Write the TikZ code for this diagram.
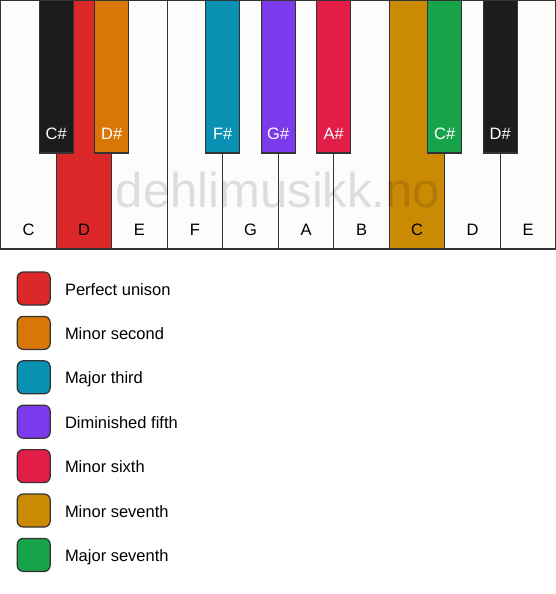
\documentclass[tikz,border=0pt]{standalone}
\usepackage{fontspec}
\setmainfont{Liberation Sans}
\definecolor{keywhite}{HTML}{FDFCFA}
\definecolor{keyblack}{HTML}{1C1C1C}
\definecolor{edge}{HTML}{333333}
\definecolor{cunison}{HTML}{DC2828}
\definecolor{csecond}{HTML}{D97706}
\definecolor{cthird}{HTML}{0891B2}
\definecolor{cfifth}{HTML}{7C3AED}
\definecolor{csixth}{HTML}{E11D48}
\definecolor{cseventh}{HTML}{CA8A04}
\definecolor{cmajseventh}{HTML}{16A34A}
\begin{document}
\begin{tikzpicture}[x=1pt,y=-1pt,
  whitekey/.style={draw=edge,line width=1.3pt,fill=keywhite,minimum width=55.5pt,minimum height=249pt,anchor=north west,inner sep=0pt,outer sep=0pt},
  blackkey/.style={draw=edge,line width=1.3pt,fill=keyblack,minimum width=34pt,minimum height=153pt,anchor=north,inner sep=0pt,outer sep=0pt},
  wlabel/.style={font=\fontsize{16.5}{19}\selectfont,text=black,anchor=base,inner sep=0pt},
  blabel/.style={font=\fontsize{16.5}{19}\selectfont,text=white,anchor=base,inner sep=0pt},
  swatch/.style={draw=edge,line width=1.2pt,rounded corners=6pt,minimum width=33pt,minimum height=33pt,inner sep=0pt},
  legtext/.style={font=\fontsize{16.5}{19}\selectfont,anchor=base west,inner sep=0pt}
]
\useasboundingbox (0,0) rectangle (556,594);
% white keys
\foreach \i/\n/\c in {0/C/keywhite,1/D/cunison,2/E/keywhite,3/F/keywhite,4/G/keywhite,5/A/keywhite,6/B/keywhite,7/C/cseventh,8/D/keywhite,9/E/keywhite}{
  \node[whitekey,fill=\c] (w\i) at (0.75+55.5*\i,0) {};
  \node[wlabel] (wl\i) at ([yshift=13.5pt]w\i.south) {\n};
}
% watermark
\node[font=\fontsize{49}{55}\selectfont,text=black,text opacity=0.12,anchor=base] (wm) at (278,207) {dehlimusikk.no};
% black keys
\foreach \i/\x/\n/\c in {0/56.25/C\#/keyblack,1/111.75/D\#/csecond,2/222.75/F\#/cthird,3/278.25/G\#/cfifth,4/333.75/A\#/csixth,5/444.75/C\#/cmajseventh,6/500.25/D\#/keyblack}{
  \node[blackkey,fill=\c] (b\i) at (\x,0) {};
  \node[blabel] (bl\i) at ([yshift=14pt]b\i.south) {\n};
}
% legend
\foreach \i/\c/\t in {0/cunison/Perfect unison,1/csecond/Minor second,2/cthird/Major third,3/cfifth/Diminished fifth,4/csixth/Minor sixth,5/cseventh/Minor seventh,6/cmajseventh/Major seventh}{
  \node[swatch,fill=\c] (s\i) at (33.7,288.5+44.4*\i) {};
  \node[legtext] (t\i) at ([xshift=14pt,yshift=-6.5pt]s\i.east) {\t};
}
\end{tikzpicture}
\end{document}
